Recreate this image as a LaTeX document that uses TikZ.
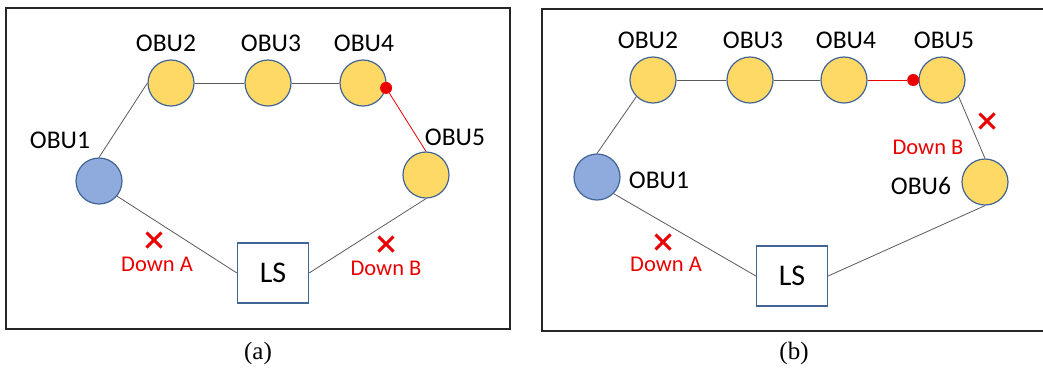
\documentclass[tikz,border=0pt]{standalone}
\usepackage{fontspec}
\setmainfont{Carlito}
\newfontfamily\capfont{Liberation Serif}
\usetikzlibrary{shapes.misc}
\definecolor{obuyellow}{RGB}{255,217,102}
\definecolor{obublue}{RGB}{143,170,220}
\definecolor{obuedge}{RGB}{65,100,150}
\definecolor{linkgray}{RGB}{90,90,90}
\definecolor{faultred}{RGB}{235,0,0}
\tikzset{
  obu/.style={circle, draw=obuedge, line width=1.2pt, minimum size=46pt, inner sep=0pt},
  obuy/.style={obu, fill=obuyellow},
  obub/.style={obu, fill=obublue},
  lsbox/.style={draw=obuedge, line width=1.2pt, fill=white, minimum width=71pt, minimum height=60pt, font=\fontsize{30}{34}\selectfont},
  lbl/.style={font=\fontsize{25.5}{29}\selectfont, inner sep=0pt},
  fault/.style={font=\fontsize{22.5}{26}\selectfont, text=faultred, inner sep=0pt},
  crossmark/.style={cross out, draw=faultred, line width=3pt, minimum size=12pt, inner sep=0pt},
  reddot/.style={circle, fill=faultred, minimum size=12pt, inner sep=0pt},
  link/.style={draw=linkgray, line width=0.8pt},
  redlink/.style={draw=faultred, line width=0.8pt},
  frame/.style={draw=black!85, line width=1.3pt},
  caption/.style={font=\capfont\fontsize{25}{29}\selectfont, inner sep=0pt}
}
\begin{document}
\begin{tikzpicture}[x=1pt, y=-1pt]
\useasboundingbox (0,0) rectangle (1043,368);

% ---------- panel (a) ----------
\draw[frame] (6,8) rectangle (510,329);

\node[obub] (a1) at (99,181) {};
\node[obuy] (a2) at (171,83) {};
\node[obuy] (a3) at (268,83) {};
\node[obuy] (a4) at (363,83) {};
\node[obuy] (a5) at (426,175) {};
\node[lsbox] (als) at (273,273) {LS};

\node[lbl] (la1) at (60,140) {OBU1};
\node[lbl] (la2) at (166,43) {OBU2};
\node[lbl] (la3) at (271,43) {OBU3};
\node[lbl] (la4) at (364,43) {OBU4};
\node[lbl] (la5) at (455,137) {OBU5};

\draw[link] (a1.north) -- (a2.west);
\draw[link] (a2) -- (a3);
\draw[link] (a3) -- (a4);
\draw[link] (a1.-40) -- (als.west);
\draw[link] (als.east) -- (a5.south);
\node[reddot] (ad) at (a4.-12) {};
\draw[redlink] (ad) -- (a5.north);

\node[crossmark] (axa) at (154,240) {};
\node[fault] (ada) at (157,264) {Down A};
\node[crossmark] (axb) at (386,244) {};
\node[fault] (adb) at (386,268) {Down B};

\node[caption] (capa) at (258,353) {(a)};

% ---------- panel (b) ----------
\draw[frame] (542,9) rectangle (1046,331);

\node[obub] (b1) at (597,177) {};
\node[obuy] (b2) at (653,80) {};
\node[obuy] (b3) at (750,80) {};
\node[obuy] (b4) at (844,80) {};
\node[obuy] (b5) at (942,80) {};
\node[obuy] (b6) at (985,182) {};
\node[lsbox] (bls) at (792,276) {LS};

\node[lbl] (lb1) at (659,180) {OBU1};
\node[lbl] (lb2) at (648,40) {OBU2};
\node[lbl] (lb3) at (753,40) {OBU3};
\node[lbl] (lb4) at (846,40) {OBU4};
\node[lbl] (lb5) at (944,40) {OBU5};
\node[lbl] (lb6) at (921,186) {OBU6};

\draw[link] (b1.north) -- (b2.south west);
\draw[link] (b2) -- (b3);
\draw[link] (b3) -- (b4);
\draw[link] (b5.south east) -- (b6.north);
\draw[link] (b1.south east) -- (bls.west);
\draw[link] (bls.east) -- (b6.south);
\node[reddot, anchor=east] (bd) at ([xshift=1pt]b5.west) {};
\draw[redlink] (b4.east) -- (bd);

\node[crossmark] (bxa) at (663,242) {};
\node[fault] (bda) at (666,264) {Down A};
\node[crossmark] (bxb) at (987,121) {};
\node[fault] (bdb) at (928,147) {Down B};

\node[caption] (capb) at (794,353) {(b)};
\end{tikzpicture}
\end{document}
